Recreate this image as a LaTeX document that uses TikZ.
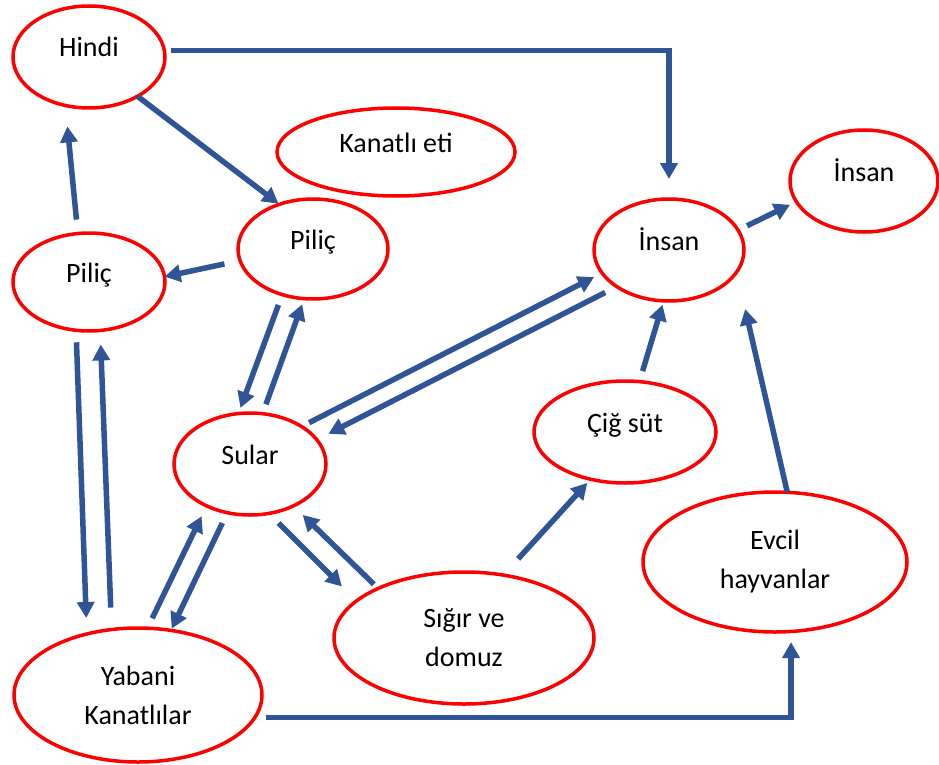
\documentclass[tikz,border=0pt]{standalone}
\usepackage{fontspec}
\setmainfont{Carlito}
\usetikzlibrary{arrows.meta,shapes.geometric}
\definecolor{arrblue}{HTML}{2F5597}

\begin{document}
\begin{tikzpicture}[x=1pt,y=-1pt,>=Triangle]
\tikzset{nd/.style={ellipse,draw=red,line width=3.5pt,inner sep=0pt,outer sep=0pt,
    align=center,font=\fontsize{28}{39}\selectfont},
  sline/.style={text height=20pt,text depth=20pt},
  arr/.style={draw=arrblue,line width=5.5pt,-{Triangle[length=16pt,width=17pt]}}}
\useasboundingbox (0,0) rectangle (939,765);
% ---------- ellipses ----------
\node[nd,sline,minimum width=152pt,minimum height=102pt] (hindi) at (89,57) {Hindi};
\node[nd,sline,minimum width=152pt,minimum height=98pt] (pilic1) at (89,282) {Piliç};
\node[nd,sline,minimum width=150pt,minimum height=100pt] (pilic2) at (313,249) {Piliç};
\node[nd,sline,minimum width=238pt,minimum height=88pt] (kanatli) at (396,152) {Kanatlı eti};
\node[nd,sline,minimum width=150pt,minimum height=102pt] (insan1) at (669,250) {İnsan};
\node[nd,sline,minimum width=148pt,minimum height=102pt] (insan2) at (864,181) {İnsan};
\node[nd,sline,minimum width=152pt,minimum height=102pt] (sular) at (250,464) {Sular};
\node[nd,minimum width=248pt,minimum height=134pt] (yabani) at (138,695) {Yabani\\Kanatlılar};
\node[nd,minimum width=260pt,minimum height=132pt] (sigir) at (464,638) {Sığır ve\\domuz};
\node[nd,sline,minimum width=182pt,minimum height=102pt] (cigsut) at (625,432) {Çiğ süt};
\node[nd,minimum width=264pt,minimum height=140pt] (evcil) at (775,562) {Evcil\\hayvanlar};
% ---------- straight arrows ----------
\foreach \s/\t/\a/\b in {hindi.-39/pilic2.127/0pt/1pt, pilic2.189/pilic1.4/16pt/0pt,
    pilic1.103/hindi.244/14pt/21pt, pilic1.255/yabani.130/12pt/16pt,
    yabani.112/pilic1.-77/22pt/14pt, pilic2.236/sular.103/11pt/6pt,
    sular.76/pilic2.260/10pt/6pt, sular.36/insan1.199/8.5pt/9pt,
    insan1.215/sular.20/13pt/13pt, sular.245/yabani.63/11.5pt/2pt,
    yabani.82/sular.224/11pt/11.5pt, sular.-69/sigir.161/13.6pt/20.5pt,
    sigir.150/sular.-44.5/6pt/13pt, sigir.58/cigsut.234/22pt/5pt,
    cigsut.74/insan1.264/11pt/4pt, evcil.80/insan1.-18/0pt/38pt,
    insan1.16/insan2.197/10pt/7pt}
  { \draw[arr,shorten <=\a,shorten >=\b] (\s) -- (\t); }
% ---------- elbow arrows ----------
\draw[arr,shorten <=7pt,shorten >=20pt] (hindi.5) -| (insan1.north);
\draw[arr,shorten <=11pt,shorten >=10.6pt] (yabani.-11.6) -| (evcil.-77);
\end{tikzpicture}
\end{document}
